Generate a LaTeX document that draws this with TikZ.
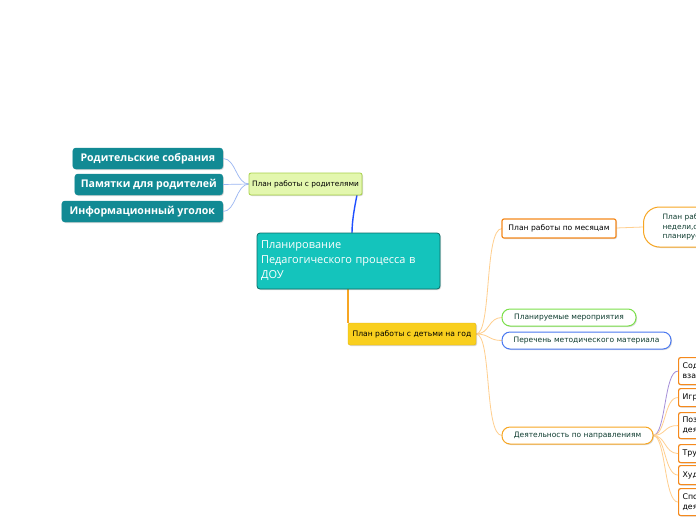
\documentclass[tikz,border=0pt]{standalone}
\usepackage{fontspec}
\setmainfont{DejaVu Sans}
\newfontfamily\osans{Open Sans}
\usetikzlibrary{shadows}
\definecolor{tealdark}{HTML}{128A94}
\definecolor{tealmain}{HTML}{14C4BC}
\definecolor{tealborder}{HTML}{0B6D68}
\definecolor{limefill}{HTML}{E3F7AE}
\definecolor{limeborder}{HTML}{A8D24A}
\definecolor{yellowfill}{HTML}{F9CF1E}
\definecolor{yellowborder}{HTML}{E2B412}
\definecolor{orangeb}{HTML}{F5891C}
\definecolor{orangec}{HTML}{F7A623}
\definecolor{greenb}{HTML}{7BE04A}
\definecolor{blueb}{HTML}{4B79F0}
\definecolor{textgreen}{HTML}{0F3D30}
\definecolor{linkblue}{HTML}{9AB6F2}
\definecolor{strongblue}{HTML}{1F4FFF}
\definecolor{linkorange}{HTML}{FFCF8E}
\definecolor{linkpurple}{HTML}{A58ED8}
\tikzset{
  px/.style={x=1pt,y=-1pt},
  shad/.style={drop shadow={shadow xshift=1pt,shadow yshift=-1pt,opacity=0.25,fill=black!60}},
  parentbox/.style={shad,draw=tealdark,fill=tealdark,rounded corners=3pt,text=white,
    font=\osans\bfseries\fontsize{10.6}{12}\selectfont,inner sep=0pt,minimum height=21pt,anchor=east},
  limebox/.style={shad,draw=limeborder,fill=limefill,rounded corners=2pt,line width=0.8pt,
    font=\fontsize{7.4}{9}\selectfont,inner sep=0pt,minimum height=22pt,minimum width=113pt},
  centralbox/.style={shad,draw=tealborder,fill=tealmain,rounded corners=3pt,line width=0.8pt,
    text=white,font=\osans\fontsize{11}{15}\selectfont,align=left,inner sep=0pt,
    minimum width=183pt,minimum height=56pt,text width=175pt},
  yearbox/.style={shad,draw=yellowborder,fill=yellowfill,rounded corners=2pt,
    font=\fontsize{7.6}{9}\selectfont,inner sep=0pt,minimum height=22pt,minimum width=128pt},
  rectbox/.style={shad,draw=orangeb,fill=white,rounded corners=2pt,line width=1.2pt,
    font=\fontsize{7.6}{9}\selectfont,inner sep=0pt,minimum height=19pt,minimum width=114pt},
  pillbox/.style={shad,fill=white,rounded corners=8pt,line width=1pt,text=textgreen,
    font=\fontsize{7.5}{9}\selectfont,inner sep=0pt,minimum height=17pt},
  weekbox/.style={shad,draw=orangec,fill=white,rounded corners=16pt,line width=1pt,text=textgreen,
    font=\fontsize{7.4}{9.5}\selectfont,align=left,anchor=west,inner sep=0pt,
    minimum height=40pt,minimum width=130pt,text width=110pt},
  sidebox/.style={shad,draw=orangeb,fill=white,rounded corners=2pt,line width=1.2pt,
    font=\fontsize{7.8}{10}\selectfont,align=left,anchor=north west,inner sep=0pt,
    minimum width=160pt,text width=152pt},
  bluelink/.style={draw=linkblue,line width=0.7pt},
  orlink/.style={draw=linkorange,line width=0.8pt},
}
\begin{document}
\begin{tikzpicture}[px]
\useasboundingbox (0,0) rectangle (696,520);
\clip (0,0) rectangle (696,520);
\fill[white] (0,0) rectangle (696,520);

% connector end points
\coordinate (parW) at (249,184);
\coordinate (parS) at (357,195);
\coordinate (cenN) at (352,233);
\coordinate (cenS) at (348,289);
\coordinate (yrN) at (348,323);
\coordinate (yrE) at (476,334);
\coordinate (moW) at (502,228.5);
\coordinate (plW) at (502,317.5);
\coordinate (liW) at (502,340.5);
\coordinate (diW) at (502,435.5);
\coordinate (moE) at (616,228);
\coordinate (wkW) at (643,227);
\coordinate (diE) at (653,435.5);

% parent nodes
\node[parentbox,minimum width=150pt] (p1) at (223,158.5) {Родительские собрания};
\node[parentbox,minimum width=148pt] (p2) at (223,184.5) {Памятки для родителей};
\node[parentbox,minimum width=161pt] (p3) at (223,211.5) {Информационный уголок};

\draw[bluelink] (parW) .. controls (236,184) and (236,158.5) .. (p1.east);
\draw[bluelink] (parW) .. controls (236,184) and (236,184.5) .. (p2.east);
\draw[bluelink] (parW) .. controls (236,184) and (236,211.5) .. (p3.east);
\draw[strongblue,line width=1.4pt] (parS) .. controls (355,205) and (352,220) .. (cenN);
\draw[orangec,line width=1.2pt] (cenS) -- (yrN);

\draw[orlink] (yrE) .. controls (492,334) and (484,228.5) .. (moW);
\draw[orlink] (yrE) .. controls (490,334) and (488,317.5) .. (plW);
\draw[orlink] (yrE) .. controls (490,334) and (488,340.5) .. (liW);
\draw[orlink] (yrE) .. controls (492,334) and (484,435.5) .. (diW);
\draw[orlink] (moE) -- (wkW);

% side nodes on the right
\node[sidebox,minimum height=27pt] (s1) at (678,357) {Содержание\\взаимодействия};
\node[sidebox,minimum height=18pt] (s2) at (678,388) {Игровая деятельность};
\node[sidebox,minimum height=26pt] (s3) at (678,412) {Познавательная\\деятельность};
\node[sidebox,minimum height=18pt] (s4) at (678,444) {Трудовая деятельность};
\node[sidebox,minimum height=19pt] (s5) at (678,465) {Художественная деятельность};
\node[sidebox,minimum height=27pt] (s6) at (678,488) {Спортивная\\деятельность};

\draw[draw=linkpurple,line width=0.8pt] (diE) .. controls (666,435.5) and (664,370.5) .. (s1.west);
\draw[orlink] (diE) .. controls (666,435.5) and (664,397) .. (s2.west);
\draw[orlink] (diE) .. controls (666,435.5) and (664,425) .. (s3.west);
\draw[orlink] (diE) .. controls (666,435.5) and (664,453) .. (s4.west);
\draw[orlink] (diE) .. controls (666,435.5) and (664,474.5) .. (s5.west);
\draw[orlink] (diE) .. controls (666,435.5) and (664,501.5) .. (s6.west);

% main nodes
\node[limebox] (par) at (305.5,184) {План работы с родителями};
\node[centralbox] (cen) at (348.5,261) {Планирование\\Педагогического процесса в\\ДОУ};
\node[yearbox] (yr) at (412,334) {План работы с детьми на год};
\node[rectbox] (mo) at (559,228.5) {План работы по месяцам};
\node[weekbox] (wk) at (643,227) {\hspace*{9pt}План работы на\\\hspace*{9pt}недели,средства\\\hspace*{9pt}планируемые};
\node[pillbox,draw=greenb,minimum width=134pt] (pl) at (569,317.5) {Планируемые мероприятия};
\node[pillbox,draw=blueb,minimum width=169pt] (li) at (586.5,340.5) {Перечень методического материала};
\node[pillbox,draw=orangec,minimum width=151pt] (di) at (577.5,435.5) {Деятельность по направлениям};
\end{tikzpicture}
\end{document}
